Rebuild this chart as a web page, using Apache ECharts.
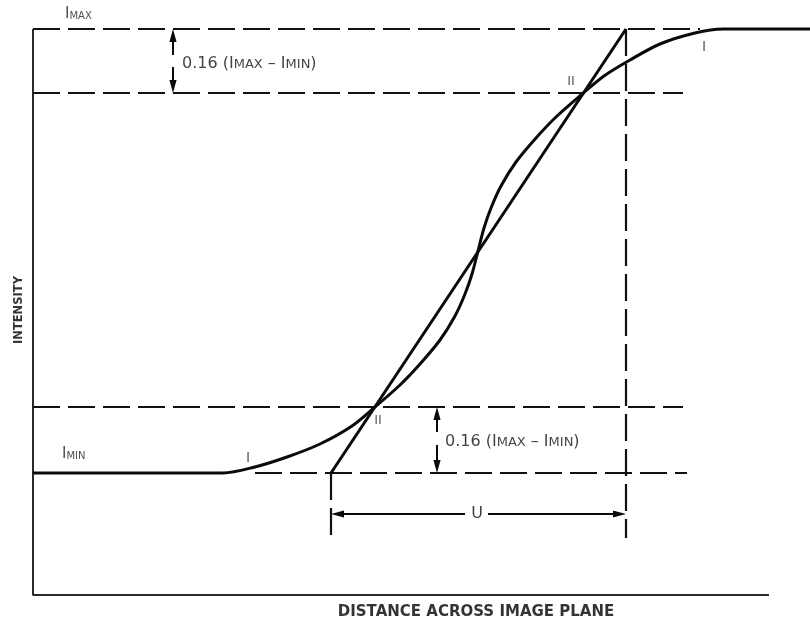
<!DOCTYPE html>
<html><head><meta charset="utf-8">
<script src="https://cdn.jsdelivr.net/npm/echarts@6/dist/echarts.min.js"></script>
<style>html,body{margin:0;padding:0;background:#fff}#c{width:810px;height:621px}</style>
</head><body><div id="c"></div>
<script>
// Edge-spread function (distance across image plane vs intensity)
const curveDistance  = [0, 120, 190, 220, 254, 287, 319, 342, 367, 387, 407, 422, 432, 439, 445, 451, 458, 468, 483, 503, 523, 548, 571, 597, 627, 662, 690, 777];
const curveIntensity = [122, 122, 122, 127.5, 138, 151, 169, 188, 210, 231, 255, 279, 301, 321, 344, 367, 387, 409, 433, 457, 478, 500, 519, 535, 551, 562, 566, 566];
// Straight line through the two 16 % points
const tangentDistance  = [298, 593];
const tangentIntensity = [122, 566];
// Intensity levels
const iMax = 566, upper16 = 502, lower16 = 188, iMin = 122;
// Horizontal dashed guides: [fromDistance, level, toDistance]
const hGuides = [[0, iMax, 667], [0, upper16, 650], [0, lower16, 650], [222, iMin, 654]];
// Vertical dashed guides: [distance, fromIntensity, toIntensity]
const vGuides = [[593, iMax, 57], [298, iMin, 60]];
// Dimension arrows: [x0, y0, xTip, yTip]
const arrows = [[140, 540, 140, iMax], [140, 528, 140, upper16], [404, 163, 404, lower16], [404, 150, 404, iMin], [432, 81, 298, 81], [455, 81, 593, 81]];
// Axis frame
const axisEnd = [736, 566];

const FONT = 'DejaVu Sans';
const INK = '#0a0a0a';
const series = [];
series.push({type:'line', data:[[0, axisEnd[1]], [0, 0], [axisEnd[0], 0]], symbol:'none', silent:true, clip:false,
  lineStyle:{width:2, color:'#2a2a2a'}, z:2});
hGuides.forEach(g => series.push({type:'line', data:[[g[0], g[1]], [g[2], g[1]]], symbol:'none', silent:true, clip:false,
  lineStyle:{width:2.2, color:'#111', type:[27, 8]}, z:2}));
vGuides.forEach(g => series.push({type:'line', data:[[g[0], g[1]], [g[0], g[2]]], symbol:'none', silent:true, clip:false,
  lineStyle:{width:2.2, color:'#111', type:[27, 8]}, z:2}));
series.push({type:'line', data:tangentDistance.map((d, i) => [d, tangentIntensity[i]]), symbol:'none', silent:true, clip:false,
  lineStyle:{width:3, color:INK}, z:4});
series.push({type:'line', data:curveDistance.map((d, i) => [d, curveIntensity[i]]), symbol:'none', silent:true, clip:false,
  smooth:0.3, lineStyle:{width:3, color:INK}, z:5});
series.push({type:'custom', data:arrows, silent:true, clip:false, z:6,
  renderItem(params, api){
    const a = api.coord([api.value(0), api.value(1)]);
    const b = api.coord([api.value(2), api.value(3)]);
    const dx = b[0]-a[0], dy = b[1]-a[1], len = Math.hypot(dx, dy);
    const ux = dx/len, uy = dy/len, hl = 13, hw = 3.6;
    const bx = b[0]-ux*hl, by = b[1]-uy*hl;
    return {type:'group', children:[
      {type:'line', shape:{x1:a[0], y1:a[1], x2:bx, y2:by}, style:{stroke:INK, lineWidth:2}},
      {type:'polygon', shape:{points:[[b[0], b[1]], [bx-uy*hw, by+ux*hw], [bx+uy*hw, by-ux*hw]]}, style:{fill:INK}}
    ]};
  }});

const rich = {
  b:{fontFamily:FONT, fontSize:15, lineHeight:15, verticalAlign:'bottom', color:'#222'},
  s:{fontFamily:FONT, fontSize:10, lineHeight:10, verticalAlign:'bottom', color:'#222', padding:[0,0,1,0]},
  B:{fontFamily:FONT, fontSize:16, lineHeight:16, verticalAlign:'bottom', color:'#111'},
  S:{fontFamily:FONT, fontSize:13, lineHeight:13, verticalAlign:'bottom', color:'#111', padding:[0,0,1,0]}
};
const lbl = (x, y, formatter, extra) => ({value:[x, y], label:Object.assign({show:true, formatter, position:[0,0], align:'left', verticalAlign:'bottom', rich}, extra || {})});
const mark = (x, y, text, size, extra) => lbl(x, y, text, Object.assign({align:'center', verticalAlign:'middle', fontFamily:FONT, fontSize:size, color:'#333'}, extra || {}));
const labels = [
  lbl(32, 573, '{b|I}{s|MAX}'),
  lbl(29, 133, '{b|I}{s|MIN}'),
  lbl(149, 523, '{B|0.16 (I}{S|MAX}{B| – I}{S|MIN}{B|)}'),
  lbl(412, 145, '{B|0.16 (I}{S|MAX}{B| – I}{S|MIN}{B|)}'),
  mark(215, 137, 'I', 14),
  mark(671, 548, 'I', 14),
  mark(345, 174, 'II', 13),
  mark(538, 513, 'II', 13),
  mark(444, 81, 'U', 16, {color:'#111'}),
  mark(-14, 285, 'INTENSITY', 11.5, {rotate:90, fontWeight:'bold', color:'#000'}),
  mark(443, -17, 'DISTANCE ACROSS IMAGE PLANE', 15, {fontWeight:'bold', color:'#000'})
];
series.push({type:'scatter', data:labels, symbolSize:0, silent:true, clip:false, z:7});

const chart = echarts.init(document.getElementById('c'));
chart.setOption({
  animation:false,
  grid:{left:0, right:0, top:0, bottom:0},
  xAxis:{type:'value', min:-33, max:777, show:false},
  yAxis:{type:'value', min:-26, max:595, show:false},
  series
});
</script></body></html>
